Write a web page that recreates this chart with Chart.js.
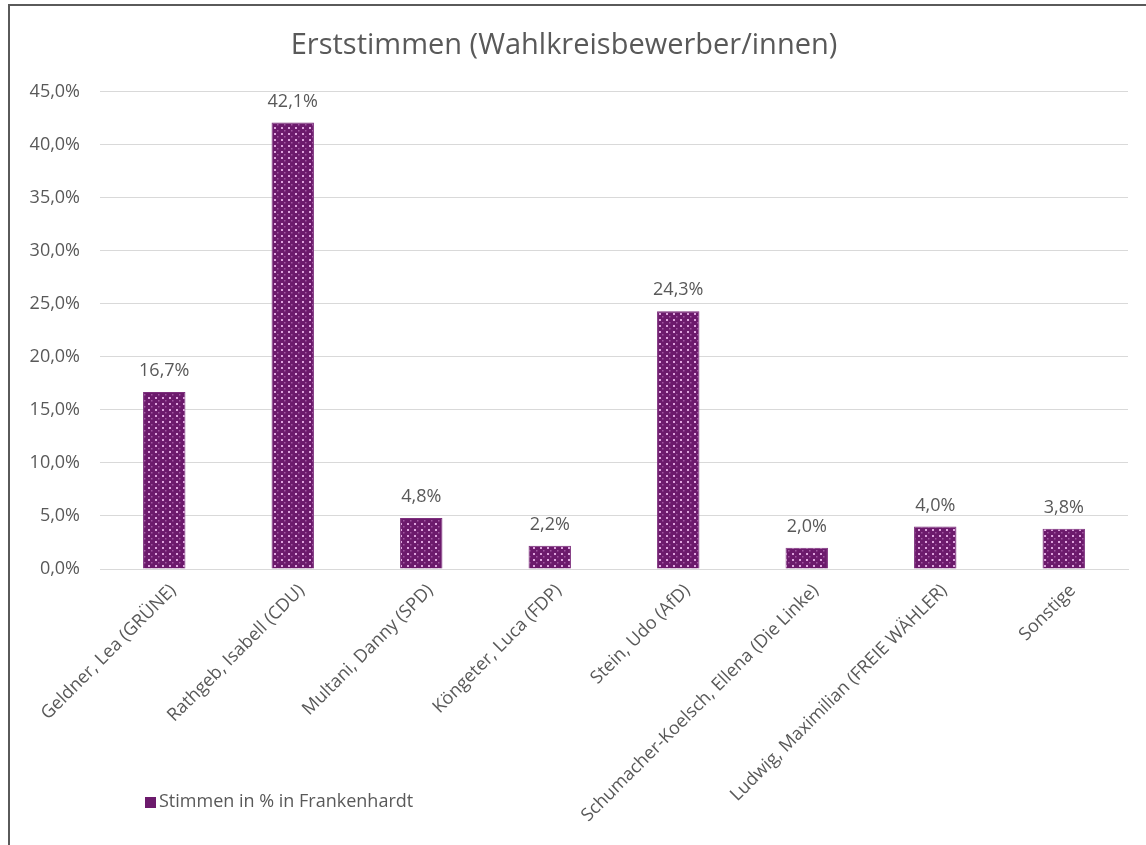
<!DOCTYPE html>
<html>
<head>
<meta charset="utf-8">
<script src="https://cdn.jsdelivr.net/npm/chart.js@4"></script>
<style>
  html, body { margin: 0; padding: 0; background: #fff; }
  #wrap { position: relative; width: 1146px; height: 845px; }
  #frame { position: absolute; left: 8px; top: 4px; right: 0; bottom: 0;
           border-left: 2px solid #5a5a5a; border-top: 2px solid #5a5a5a; pointer-events: none; }
</style>
</head>
<body>
<div id="wrap">
  <canvas id="chart" width="1146" height="845"></canvas>
  <div id="frame"></div>
</div>
<script>
const candidates = [
  'Geldner, Lea (GRÜNE)',
  'Rathgeb, Isabell (CDU)',
  'Multani, Danny (SPD)',
  'Köngeter, Luca (FDP)',
  'Stein, Udo (AfD)',
  'Schumacher-Koelsch, Ellena (Die Linke)',
  'Ludwig, Maximilian (FREIE WÄHLER)',
  'Sonstige'
];
const stimmen = [16.7, 42.1, 4.8, 2.2, 24.3, 2.0, 4.0, 3.8];
const seriesName = 'Stimmen in % in Frankenhardt';
const chartTitle = 'Erststimmen (Wahlkreisbewerber/innen)';

const fontFamily = '"Open Sans", "Noto Sans", sans-serif';
const textGrey = '#595959';
const purple = '#6c1a6c';

// dotted purple fill like the original
function makePattern() {
  const c = document.createElement('canvas');
  c.width = 7; c.height = 6;
  const g = c.getContext('2d');
  g.fillStyle = purple;
  g.fillRect(0, 0, 7, 6);
  g.fillStyle = 'rgba(235,180,235,0.9)';
  g.fillRect(1, 1, 2, 2);
  g.fillStyle = 'rgba(200,130,200,0.6)';
  g.fillRect(4, 4, 1.5, 1.5);
  return document.getElementById('chart').getContext('2d').createPattern(c, 'repeat');
}

const fmt = v => v.toFixed(1).replace('.', ',') + '%';

const valueLabels = {
  id: 'valueLabels',
  afterDatasetsDraw(chart) {
    const ctx = chart.ctx;
    const meta = chart.getDatasetMeta(0);
    ctx.save();
    ctx.font = '18px ' + fontFamily;
    ctx.fillStyle = textGrey;
    ctx.textAlign = 'center';
    ctx.textBaseline = 'middle';
    meta.data.forEach((bar, i) => {
      ctx.fillText(fmt(chart.data.datasets[0].data[i]), bar.x, bar.y - 21);
    });
    ctx.restore();
  }
};

const bottomLegend = {
  id: 'bottomLegend',
  afterDraw(chart) {
    const ctx = chart.ctx;
    const ds = chart.data.datasets[0];
    ctx.save();
    ctx.fillStyle = purple;
    ctx.fillRect(145, 797, 11, 11);
    ctx.font = '18px ' + fontFamily;
    ctx.fillStyle = textGrey;
    ctx.textAlign = 'left';
    ctx.textBaseline = 'middle';
    ctx.fillText(ds.label, 159, 802);
    ctx.restore();
  }
};

new Chart(document.getElementById('chart'), {
  type: 'bar',
  data: {
    labels: candidates,
    datasets: [{
      label: seriesName,
      data: stimmen,
      backgroundColor: makePattern(),
      borderColor: '#7d2f7d',
      borderWidth: 1,
      barPercentage: 0.33,
      categoryPercentage: 1
    }]
  },
  options: {
    responsive: false,
    animation: false,
    layout: { padding: { top: 18, right: 18, left: 0, bottom: 0 } },
    plugins: {
      legend: { display: false },
      tooltip: { enabled: false },
      title: {
        display: true,
        text: chartTitle,
        color: textGrey,
        font: { family: fontFamily, size: 29, weight: 'normal' },
        padding: { top: 10, bottom: 29 }
      }
    },
    scales: {
      x: {
        grid: { display: false },
        border: { color: '#d9d9d9' },
        ticks: {
          color: textGrey,
          font: { family: fontFamily, size: 18 },
          maxRotation: 45,
          minRotation: 45,
          autoSkip: false,
          padding: 3,
          labelOffset: 9
        },
        afterFit(scale) { scale.height = 276; }
      },
      y: {
        min: 0,
        max: 45,
        grid: { color: '#d9d9d9', drawTicks: false },
        border: { display: false },
        ticks: {
          stepSize: 5,
          color: textGrey,
          font: { family: fontFamily, size: 18 },
          padding: 20,
          callback: v => fmt(v)
        },
        afterFit(scale) { scale.width = 100; }
      }
    }
  },
  plugins: [valueLabels, bottomLegend]
});
</script>
</body>
</html>
